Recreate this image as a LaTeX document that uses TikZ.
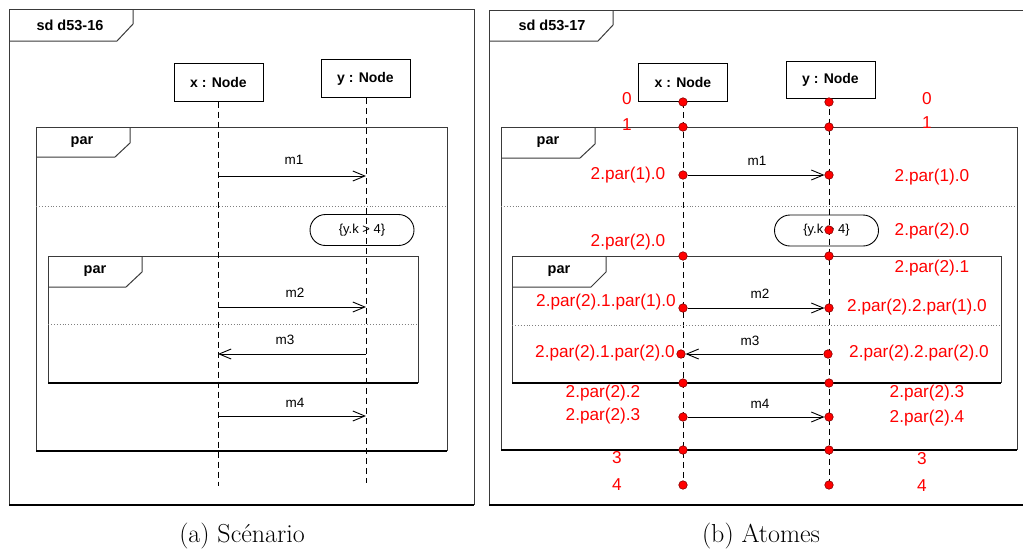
\documentclass[tikz,border=0pt]{standalone}
\usepackage{fontspec}
\newfontfamily\uml{Liberation Sans}
\usetikzlibrary{arrows.meta,backgrounds}
\definecolor{framegray}{HTML}{3A3A3A}
\definecolor{dotedge}{HTML}{8A0000}
\begin{document}
\begin{tikzpicture}[x=1pt,y=-1pt,
 frameline/.style={draw=framegray,line width=1pt},
 bottomline/.style={draw=black,line width=2pt},
 sepline/.style={draw=gray,dotted,line width=0.9pt},
 objbox/.style={draw=black,line width=1pt,fill=white,font=\uml\bfseries\fontsize{14}{16}\selectfont,inner sep=0pt,minimum width=89pt,minimum height=38pt},
 tabtext/.style={font=\uml\bfseries\fontsize{14.5}{16}\selectfont,inner sep=0pt},
 lifeline/.style={draw=black,line width=0.9pt,dash pattern=on 6pt off 4pt},
 msg/.style={draw=black,line width=0.9pt,-{Straight Barb[length=12pt,width=10pt,line width=0.9pt]}},
 msglabel/.style={font=\uml\fontsize{13.5}{15}\selectfont,inner sep=0pt},
 constraint/.style={draw=black,line width=0.9pt,rounded corners=15.5pt,minimum width=104pt,minimum height=31pt,font=\uml\fontsize{13}{15}\selectfont,inner sep=0pt},
 atomdot/.style={circle,fill=red,draw=dotedge,line width=0.6pt,minimum size=8.5pt,inner sep=0pt},
 atomlabel/.style={text=red,font=\uml\fontsize{17.2}{19}\selectfont,inner sep=0pt},
 captext/.style={font=\fontsize{26}{30}\selectfont,inner sep=0pt}
]
\useasboundingbox (0,0) rectangle (1023,550);

% ================= (a) Scenario =================
\draw[frameline] (9,505) -- (9,9) -- (474,9) -- (474,505);
\draw[bottomline] (9,505) -- (474,505);
\draw[frameline] (9,41) -- (117,41) -- (133,24) -- (133,9);
\node[tabtext] (sdA) at (70,25) {sd d53-16};

% outer par
\draw[frameline] (36,451) -- (36,127) -- (447,127) -- (447,451);
\draw[bottomline] (36,451) -- (447,451);
\draw[frameline] (36,157) -- (115,157) -- (130,143) -- (130,127);
\node[tabtext] (parA1) at (82,142) {par};
\draw[sepline] (36,206) -- (447,206);

% constraint
\node[constraint] (conA) at (362,230) {\{y.k > 4\}};

% inner par
\draw[frameline] (48,383) -- (48,256) -- (418,256) -- (418,383);
\draw[draw=black,line width=1.3pt] (48,383) -- (418,383);
\draw[frameline] (48,287) -- (126,287) -- (142,272) -- (142,256);
\node[tabtext] (parA2) at (95,271) {par};
\draw[sepline] (48,324) -- (418,324);

% objects and lifelines
\node[objbox] (xA) at (218.5,82) {x : Node};
\node[objbox] (yA) at (365.5,78.5) {y : Node};
\coordinate (xAend) at (218,486);
\coordinate (yAend) at (366,483);
\draw[lifeline] (xA.south -| xAend) -- (xAend);
\draw[lifeline] (yA.south -| yAend) -- (yAend);

% messages
\coordinate (a1s) at (218,176); \coordinate (a1e) at (366,176);
\coordinate (a2s) at (218,307); \coordinate (a2e) at (366,307);
\coordinate (a3s) at (366,354); \coordinate (a3e) at (218,354);
\coordinate (a4s) at (218,416); \coordinate (a4e) at (366,416);
\draw[msg] (a1s) -- (a1e);
\draw[msg] (a2s) -- (a2e);
\draw[msg] (a3s) -- (a3e);
\draw[msg] (a4s) -- (a4e);
\node[msglabel] (la1) at (294,160) {m1};
\node[msglabel] (la2) at (295,293) {m2};
\node[msglabel] (la3) at (285,340) {m3};
\node[msglabel] (la4) at (295,403) {m4};

\node[captext] (capA) at (242,536) {(a) Scénario};

% ================= (b) Atomes =================
\draw[frameline] (1023,10) -- (489,10) -- (489,505);
\draw[bottomline] (489,505) -- (1023,505);
\draw[frameline] (489,41) -- (598,41) -- (613,25) -- (613,10);
\node[tabtext] (sdB) at (552,25) {sd d53-17};

% outer par
\draw[frameline] (501,450) -- (501,127) -- (1017,127) -- (1017,450);
\draw[bottomline] (501,450) -- (1017,450);
\draw[frameline] (501,158) -- (580,158) -- (595,144) -- (595,127);
\node[tabtext] (parB1) at (548,142) {par};
\draw[sepline] (501,206) -- (1017,206);

% constraint
\node[constraint] (conB) at (826.5,230.5) {\{y.k > 4\}};

% inner par
\draw[frameline] (512,383) -- (512,256) -- (1001,256) -- (1001,383);
\draw[bottomline] (512,383) -- (1001,383);
\draw[frameline] (512,287) -- (591,287) -- (606,272) -- (606,256);
\node[tabtext] (parB2) at (559,271) {par};
\draw[sepline] (512,325) -- (1001,325);

% objects
\node[objbox] (xB) at (683,82.5) {x : Node};
\node[objbox, minimum height=37pt] (yB) at (830.5,79.5) {y : Node};

% atom dots
\node[atomdot] (bx0) at (683,102) {};
\node[atomdot] (by0) at (829,102) {};
\node[atomdot] (bx1) at (683,127) {};
\node[atomdot] (by1) at (829,127) {};
\node[atomdot] (bx2) at (683,175) {};
\node[atomdot] (by2) at (829,175) {};
\node[atomdot] (byc) at (829,230) {};
\node[atomdot] (bx3) at (683,256) {};
\node[atomdot] (by3) at (829,256) {};
\node[atomdot] (bx4) at (683,308) {};
\node[atomdot] (by4) at (829,308) {};
\node[atomdot] (bx5) at (681,354) {};
\node[atomdot] (by5) at (828,354) {};
\node[atomdot] (bx6) at (683,383) {};
\node[atomdot] (by6) at (829,383) {};
\node[atomdot] (bx7) at (683,417) {};
\node[atomdot] (by7) at (829,417) {};
\node[atomdot] (bx8) at (683,450) {};
\node[atomdot] (by8) at (829,450) {};
\node[atomdot] (bx9) at (683,485) {};
\node[atomdot] (by9) at (829,485) {};

\begin{scope}[on background layer]
\draw[lifeline] (xB.south) -- (bx9.center);
\draw[lifeline] (yB.south -| by0) -- (by9.center);
\end{scope}

% messages
\draw[msg] (bx2) -- (by2);
\draw[msg] (bx4) -- (by4);
\draw[msg] (by5) -- (bx5);
\draw[msg] (bx7) -- (by7);
\node[msglabel] (lb1) at (757,161) {m1};
\node[msglabel] (lb2) at (760,294) {m2};
\node[msglabel] (lb3) at (750,341) {m3};
\node[msglabel] (lb4) at (760,404) {m4};

% atom labels, left
\node[atomlabel] (tl0) at (627,99) {0};
\node[atomlabel] (tl1) at (627,125) {1};
\node[atomlabel] (tl2) at (628,175) {2.par(1).0};
\node[atomlabel] (tl3) at (628,242) {2.par(2).0};
\node[atomlabel, anchor=east] (tl4) at (676,302) {2.par(2).1.par(1).0};
\node[atomlabel, anchor=east] (tl5) at (675,353) {2.par(2).1.par(2).0};
\node[atomlabel] (tl6) at (603,393) {2.par(2).2};
\node[atomlabel] (tl7) at (603,416) {2.par(2).3};
\node[atomlabel] (tl8) at (617,458) {3};
\node[atomlabel] (tl9) at (617,485) {4};
% atom labels, right
\node[atomlabel] (tr0) at (927,99) {0};
\node[atomlabel] (tr1) at (927,123) {1};
\node[atomlabel] (tr2) at (932,177) {2.par(1).0};
\node[atomlabel] (tr3) at (932,231) {2.par(2).0};
\node[atomlabel] (tr4) at (932,268) {2.par(2).1};
\node[atomlabel, anchor=west] (tr5) at (847,307) {2.par(2).2.par(1).0};
\node[atomlabel, anchor=west] (tr6) at (849,353) {2.par(2).2.par(2).0};
\node[atomlabel] (tr7) at (927,393) {2.par(2).3};
\node[atomlabel] (tr8) at (927,418) {2.par(2).4};
\node[atomlabel] (tr9) at (922,459) {3};
\node[atomlabel] (tr10) at (922,486) {4};

\node[captext] (capB) at (761,536) {(b) Atomes};
\end{tikzpicture}
\end{document}
